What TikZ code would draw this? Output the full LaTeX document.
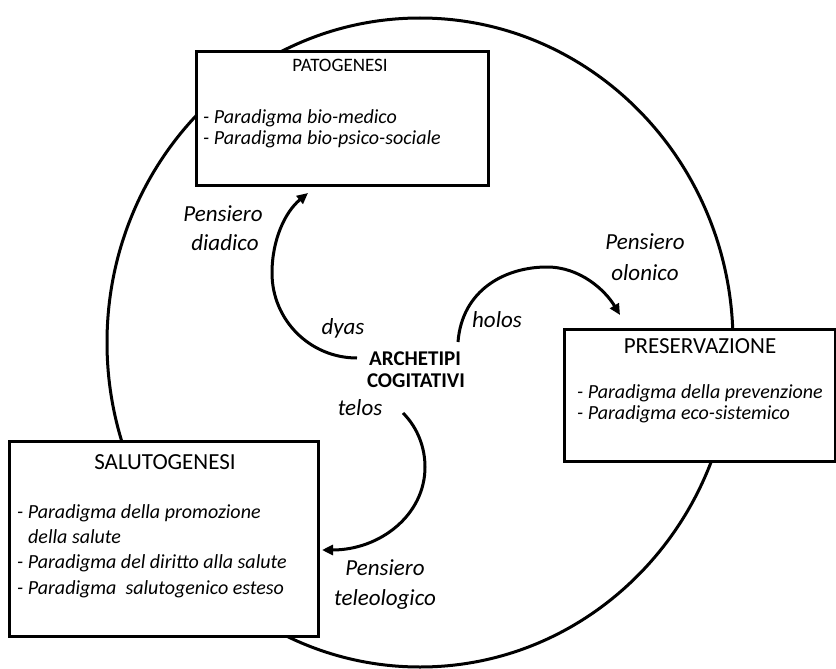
\documentclass[tikz,border=0pt]{standalone}
\usepackage{fontspec}
\setmainfont{Carlito}
\usetikzlibrary{arrows.meta,shapes.geometric}
\begin{document}
\begin{tikzpicture}[x=1pt,y=-1pt,
  box/.style={draw, line width=3pt, fill=white, inner sep=0pt, anchor=north west},
  ttl/.style={font=\fontsize{23}{26}\selectfont, anchor=base, inner sep=0pt},
  item/.style={font=\fontsize{20}{23}\selectfont\itshape, anchor=base west, inner sep=0pt},
  lbl/.style={font=\fontsize{23}{26}\selectfont\itshape, inner sep=0pt, text height=0.7em, text depth=0.2em},
  ctr/.style={font=\fontsize{21}{24}\selectfont\bfseries, inner sep=0pt, text height=0.7em, text depth=0.2em},
  arcarrow/.style={line width=3pt, -{Triangle[length=11pt,width=10pt]}}
]
\useasboundingbox (0,0) rectangle (836,669);
% big circle
\node[draw, ellipse, line width=3pt, minimum width=626pt, minimum height=649pt, inner sep=0pt] (ring) at (420,342.5) {};
% boxes
\node[box, minimum width=292pt, minimum height=134pt] (patbox) at (195,50) {};
\node[box, minimum width=271pt, minimum height=132pt] (prebox) at (563,328) {};
\node[box, minimum width=309pt, minimum height=195pt] (salbox) at (8,440) {};
% PATOGENESI
\node[ttl, font=\fontsize{19}{22}\selectfont] (pattitle) at (340,72) {PATOGENESI};
\node[item] (pat1) at (203,123) {- Paradigma bio-medico};
\node[item] (pat2) at (203,144) {- Paradigma bio-psico-sociale};
% PRESERVAZIONE
\node[ttl] (pretitle) at (700,353) {PRESERVAZIONE};
\node[item] (pre1) at (577,398) {- Paradigma della prevenzione};
\node[item] (pre2) at (577,419) {- Paradigma eco-sistemico};
% SALUTOGENESI
\node[ttl] (saltitle) at (165,469) {SALUTOGENESI};
\node[item] (sal1) at (17,518) {- Paradigma della promozione};
\node[item] (sal1b) at (28,543) {della salute};
\node[item] (sal2) at (17,568) {- Paradigma del diritto alla salute};
\node[item] (sal3) at (17,594) {- Paradigma \ salutogenico esteso};
% center
\node[ctr] (arch1) at (415,363) {ARCHETIPI};
\node[ctr] (arch2) at (416,385) {COGITATIVI};
% labels
\node[lbl] (pd1) at (223,219) {Pensiero};
\node[lbl] (pd2) at (225,248) {diadico};
\node[lbl] (po1) at (645,247) {Pensiero};
\node[lbl] (po2) at (645,278) {olonico};
\node[lbl] (pt1) at (385,573) {Pensiero};
\node[lbl] (pt2) at (385,603) {teleologico};
\node[lbl] (dyas) at (343,332) {dyas};
\node[lbl] (holos) at (497,325) {holos};
\node[lbl] (telos) at (360,413) {telos};
% arrows
\coordinate (dyasS) at (357,358);
\coordinate (dyasE) at (308,193);
\coordinate (holosS) at (458,342);
\coordinate (holosE) at (620,315);
\coordinate (telosS) at (403,413);
\coordinate (telosE) at (322,550);
\draw[arcarrow] (dyasS) .. controls (310,358) and (272,320) .. (272,273) .. controls (272,240) and (285,212) .. (dyasE);
\draw[arcarrow] (holosS) .. controls (462,290) and (505,267) .. (547,267) .. controls (580,267) and (605,290) .. (holosE);
\draw[arcarrow] (telosS) .. controls (418,428) and (425,448) .. (425,467) .. controls (425,515) and (380,550) .. (telosE);
\end{tikzpicture}
\end{document}
